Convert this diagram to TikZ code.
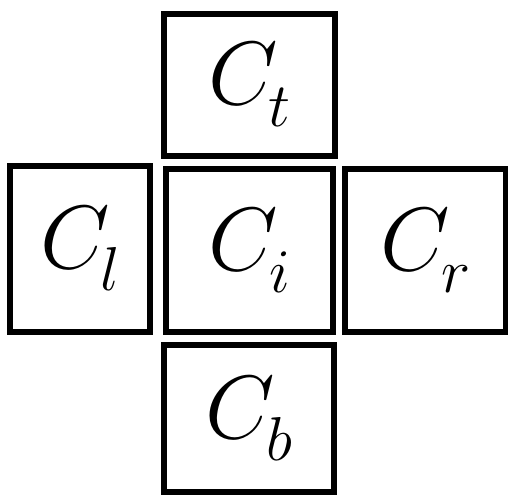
\documentclass[tikz,border=0pt]{standalone}
\usepackage{fix-cm}
\usetikzlibrary{positioning}

\newcommand{\cellname}[1]{$C$\kern-9pt\raisebox{-22pt}{\fontsize{62}{62}\selectfont$#1$}}

\begin{document}
\begin{tikzpicture}[x=1pt, y=-1pt,
    cell/.style={draw, line width=5.5pt, inner sep=0pt, font=\fontsize{90}{90}\selectfont}]
    \useasboundingbox (0,0) rectangle (508,495);

    \node[cell, minimum width=171pt, minimum height=142pt] (ct) at (249.5,85) {\cellname{t}};
    \node[cell, minimum width=140pt, minimum height=166pt] (cl) at (80,249) {\cellname{l}};
    \node[cell, minimum width=167pt, minimum height=163pt] (ci) at (249.5,250.5) {\cellname{i}};
    \node[cell, minimum width=161pt, minimum height=163pt] (cr) at (425.5,250.5) {\cellname{r}};
    \node[cell, minimum width=170pt, minimum height=147pt] (cb) at (249,418.5) {\cellname{b}};
\end{tikzpicture}
\end{document}
